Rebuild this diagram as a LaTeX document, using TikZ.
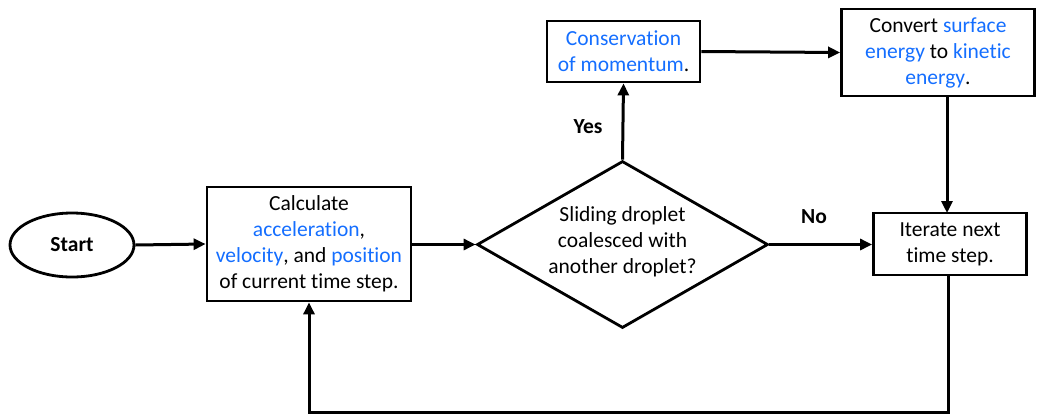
\documentclass[tikz,border=0pt]{standalone}
\usepackage{fontspec}
\setmainfont[Ligatures={NoCommon}]{Carlito}
\usetikzlibrary{shapes.geometric,arrows.meta}
\definecolor{hl}{RGB}{20,110,255}
\newcommand{\hb}[1]{\textcolor{hl}{#1}}
\begin{document}
\begin{tikzpicture}[x=1pt,y=-1pt,
  every node/.style={font=\fontsize{21.5}{26}\selectfont},
  boxnode/.style={draw,line width=2.8pt,rectangle,inner sep=0pt,align=center},
  tip/.tip={Triangle[length=12pt,width=11pt]},
  lbl/.style={font=\fontsize{21.5}{26}\selectfont\bfseries}]
\useasboundingbox (0,0) rectangle (1041,416);
\node[draw,line width=2.8pt,ellipse,minimum width=124pt,minimum height=64pt,inner sep=0pt,font=\fontsize{21.5}{26}\selectfont\bfseries] (start) at (72,245) {Start};
\node[boxnode,minimum width=204pt,minimum height=114pt] (calc) at (309,244) {Calculate\\\hb{acceleration},\\\hb{velocity}, and \hb{position}\\of current time step.};
\node[draw,line width=2.8pt,diamond,minimum width=291pt,minimum height=167pt,inner sep=0pt] (dec) at (622.5,244.5) {};
\node[align=center] (dtext) at (622.5,242) {Sliding droplet\\coalesced with\\another droplet?};
\node[boxnode,minimum width=153pt,minimum height=61pt] (cons) at (623.5,51.5) {\hb{Conservation}\\\hb{of momentum}.};
\node[boxnode,minimum width=193pt,minimum height=87pt] (conv) at (938,52.5) {Convert \hb{surface}\\\hb{energy} to \hb{kinetic}\\\hb{energy}.};
\node[boxnode,minimum width=153pt,minimum height=62pt] (iter) at (950,244) {Iterate next\\time step.};
\node[lbl] (yes) at (588,127) {Yes};
\node[lbl] (no) at (814,217) {No};
\coordinate (c1) at (948,412);
\coordinate (c2) at (309,412);
\coordinate (v1) at (947,96);
\coordinate (v2) at (947,213);
\coordinate (w1) at (948,275);
\draw[line width=3pt,-tip] (start.east) -- (calc.west);
\draw[line width=3pt,-tip] (calc.east |- dec.west) -- (dec.west);
\draw[line width=3pt,-tip] (dec.north) -- (cons.south);
\draw[line width=3pt,-tip] (cons.east) -- (conv.west);
\draw[line width=3pt,-tip] (v1) -- (v2);
\draw[line width=3pt,-tip] (dec.east) -- (iter.west |- dec.east);
\draw[line width=3pt,-tip] (w1) -- (c1) -- (c2) -- (calc.south);
\end{tikzpicture}
\end{document}
